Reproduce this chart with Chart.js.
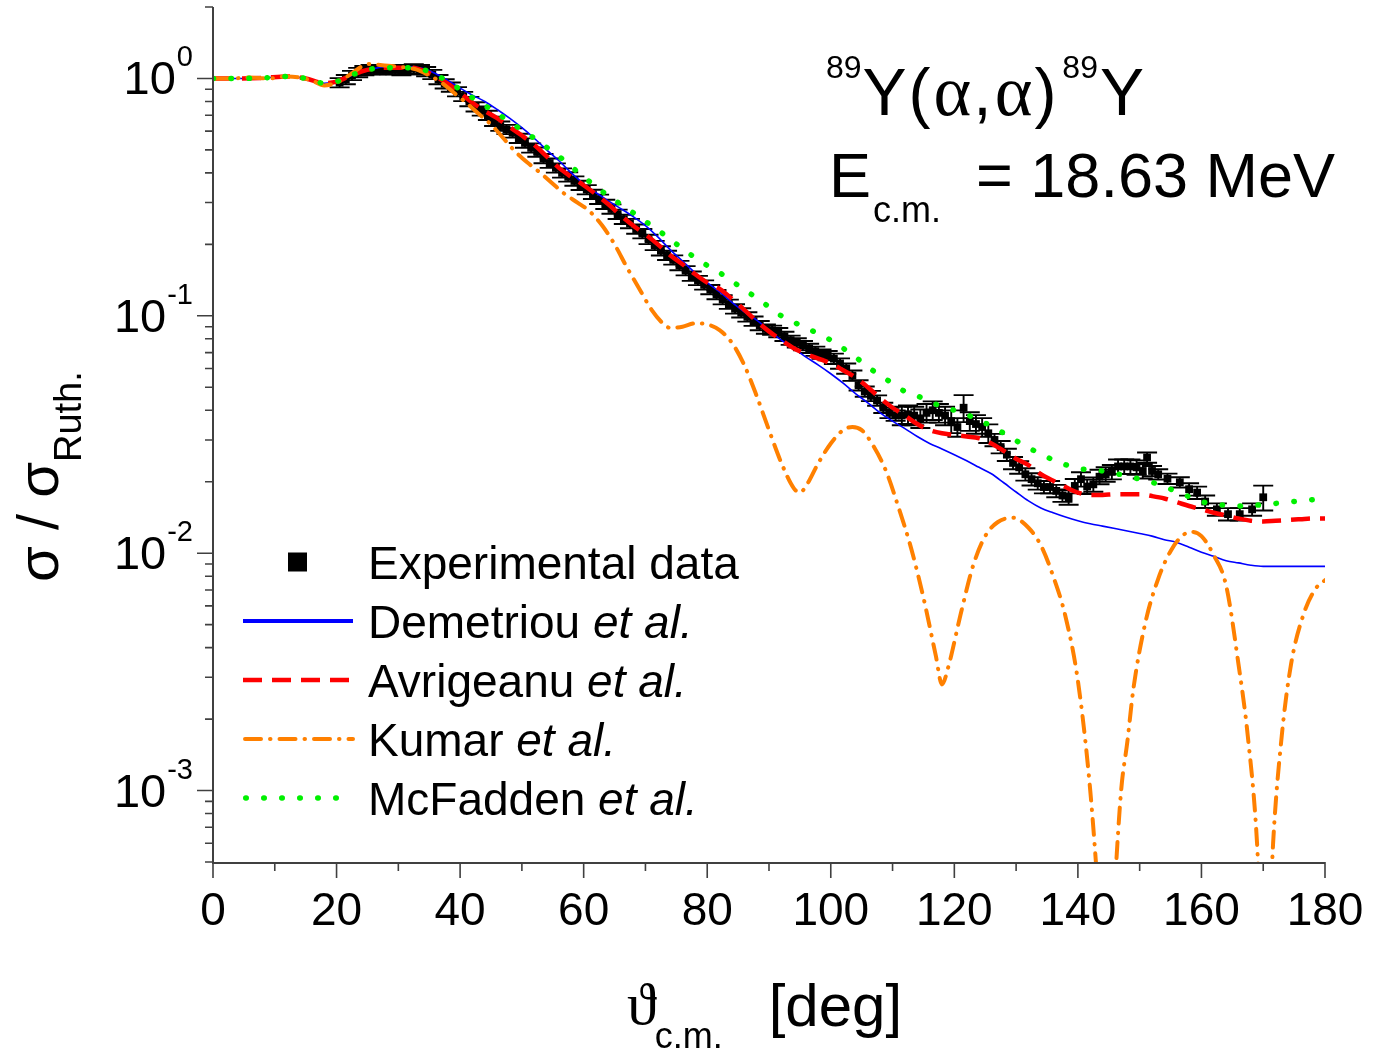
<!DOCTYPE html>
<html><head><meta charset="utf-8">
<script src="https://cdn.jsdelivr.net/npm/chart.js@4/dist/chart.umd.min.js"></script>
<style>html,body{margin:0;padding:0;background:#fff;}canvas{display:block;}</style>
</head><body>
<canvas id="c" width="1380" height="1053"></canvas>
<script>
// ---------------- DATA ----------------
const expAngles = [
 20.5,21.5,22.5,23.5,24.5,25.5,26.5,27.5,28.5,29.5,
 30.5,31.5,32.5,33.5,34.5,35.5,36.5,37.5,38.5,39.5,
 40.5,41.5,42.5,43.5,44.5,45.5,46.5,47.5,48.5,49.5,
 50.5,51.5,52.5,53.5,54.5,55.5,56.5,57.5,58.5,59.5,
 60.5,61.5,62.5,63.5,64.5,65.5,66.5,67.5,68.5,69.5,
 70.5,71.5,72.5,73.5,74.5,75.5,76.5,77.5,78.5,79.5,
 80.5,81.5,82.5,83.5,84.5,85.5,86.5,87.5,88.5,89.5,
 90.5,91.5,92.5,93.5,94.5,95.5,96.5,97.5,98.5,99.5,
 100.5,101.5,102.5,103.5,104.5,105.5,106.5,107.5,108.5,109.5,
 110.5,111.5,112.5,113.5,114.5,115.5,116.5,117.5,118.5,119.5,
 120.5,121.5,122.5,123.5,124.5,125.5,126.5,127.5,128.5,129.5,
 130.5,131.5,132.5,133.5,134.5,135.5,136.5,137.5,138.5,139.5,
 140.5,141.5,142.5,143.5,144.5,145.5,146.5,147.5,148.5,149.5,
 150.5,151.2,152.0,153.0,154.5,156.5,158.0,159.3,160.6,162.5,
 164.3,166.2,168.2,170.0];
const expValues = [
 0.96,0.99,1.03,1.06,1.08,1.09,1.09,1.09,1.09,1.09,
 1.08,1.09,1.10,1.09,1.07,1.04,0.99,0.95,0.92,0.88,
 0.84,0.80,0.76,0.73,0.70,0.66,0.63,0.61,0.59,0.56,
 0.535,0.51,0.49,0.46,0.44,0.42,0.40,0.385,0.37,0.355,
 0.34,0.325,0.31,0.295,0.282,0.268,0.255,0.245,0.232,0.222,
 0.21,0.198,0.188,0.18,0.172,0.163,0.155,0.147,0.141,0.135,
 0.129,0.123,0.117,0.112,0.107,0.103,0.099,0.095,0.091,0.088,
 0.087,0.085,0.082,0.079,0.077,0.075,0.073,0.071,0.069,0.068,
 0.066,0.063,0.060,0.056,0.051,0.048,0.046,0.044,0.041,0.039,
 0.038,0.038,0.0385,0.038,0.037,0.039,0.040,0.039,0.038,0.036,
 0.034,0.041,0.036,0.035,0.034,0.032,0.030,0.028,0.026,0.024,
 0.023,0.0215,0.0205,0.0197,0.019,0.019,0.0183,0.0175,0.0172,0.0192,
 0.0205,0.0191,0.0195,0.021,0.0215,0.022,0.0232,0.0232,0.0232,0.023,
 0.0222,0.0253,0.0222,0.0215,0.0206,0.0199,0.0186,0.018,0.0165,0.0153,
 0.0146,0.0146,0.0153,0.0172];
const expRelErr = [
 0.045,0.045,0.045,0.045,0.045,0.045,0.045,0.045,0.045,0.045,
 0.045,0.045,0.045,0.045,0.045,0.045,0.045,0.045,0.045,0.045,
 0.045,0.045,0.045,0.045,0.045,0.045,0.045,0.045,0.045,0.045,
 0.045,0.045,0.045,0.045,0.045,0.045,0.045,0.045,0.045,0.045,
 0.045,0.045,0.045,0.045,0.045,0.045,0.045,0.045,0.045,0.045,
 0.045,0.045,0.045,0.045,0.045,0.045,0.045,0.045,0.045,0.045,
 0.045,0.045,0.045,0.045,0.045,0.045,0.045,0.045,0.045,0.045,
 0.045,0.045,0.045,0.045,0.045,0.045,0.045,0.045,0.045,0.045,
 0.05,0.05,0.05,0.05,0.05,0.05,0.05,0.05,0.05,0.05,
 0.05,0.09,0.09,0.09,0.09,0.09,0.09,0.09,0.09,0.11,
 0.09,0.13,0.09,0.09,0.09,0.09,0.06,0.06,0.06,0.06,
 0.06,0.06,0.06,0.06,0.06,0.06,0.06,0.06,0.07,0.07,
 0.07,0.07,0.07,0.07,0.07,0.07,0.07,0.07,0.07,0.07,
 0.07,0.05,0.05,0.05,0.05,0.05,0.06,0.06,0.06,0.06,
 0.06,0.06,0.06,0.12];

const demAngles = [0,4,8,12,15,18,20,22,24,26,28,30,32,34,36,38,40,42,44,46,48,50,52,54,56,58,60,62,64,66,68,70,72,74,76,78,80,82,84,86,88,90,92,94,96,98,100,102,104,106,108,110,112,114,116,118,120,122,124,126,128,130,132,134,136,138,140,142,144,146,148,150,152,154,156,158,160,162,164,166,168,170,174,180];
const demValues = [1.0,1.0,1.005,1.02,1.0,0.955,0.97,1.02,1.07,1.10,1.12,1.12,1.12,1.10,1.05,0.98,0.91,0.85,0.80,0.74,0.68,0.62,0.56,0.50,0.45,0.40,0.36,0.33,0.305,0.283,0.262,0.24,0.215,0.19,0.17,0.152,0.138,0.126,0.114,0.104,0.096,0.087,0.079,0.073,0.067,0.062,0.057,0.052,0.047,0.043,0.039,0.036,0.0335,0.031,0.029,0.0275,0.026,0.0245,0.023,0.0216,0.0198,0.0181,0.0166,0.0155,0.0148,0.0142,0.0137,0.0133,0.013,0.0127,0.0124,0.0121,0.0118,0.0114,0.0111,0.0106,0.0101,0.0097,0.0093,0.0091,0.0089,0.0088,0.0088,0.0088];

const avrAngles = [0,4,8,12,15,18,20,22,24,26,28,30,32,34,36,38,40,42,44,46,48,50,52,54,56,58,60,62,64,66,68,70,72,74,76,78,80,82,84,86,88,90,92,94,96,98,100,102,104,106,108,110,112,114,116,118,120,122,124,126,128,130,132,134,136,138,140,142,144,146,148,150,152,154,156,158,160,162,164,166,168,170,172,174,176,178,180];
const avrValues = [1.0,1.0,1.005,1.02,1.0,0.955,0.97,1.02,1.07,1.10,1.11,1.11,1.11,1.08,1.02,0.95,0.87,0.79,0.73,0.68,0.625,0.575,0.525,0.47,0.42,0.385,0.355,0.325,0.295,0.265,0.24,0.22,0.2,0.18,0.165,0.15,0.138,0.13,0.118,0.106,0.095,0.086,0.079,0.073,0.069,0.066,0.063,0.059,0.055,0.05,0.045,0.041,0.038,0.035,0.033,0.032,0.0315,0.031,0.0305,0.029,0.027,0.025,0.0235,0.0215,0.0202,0.019,0.018,0.0176,0.0176,0.0177,0.0177,0.0177,0.0174,0.017,0.0164,0.0158,0.0153,0.0148,0.0144,0.014,0.0137,0.0136,0.0137,0.0138,0.0139,0.014,0.014];

const kumAngles = [0,3,6,9,12,14,16,18,20,22,24,25,27,30,33,35,37,39,41,43,45,47,49,51,53,55,57,59,61,63,65,67,69,71,73,74,76,78,80,82,84,86,88,90,92,94,95,96,98,100,102,103.5,105,107,109,111,113,115,117,118,119,121,123,125,127,129.5,132,134,136,138,140,142,143.5,144.6,145.7,147,148,149,151,153,155,157,158.5,160,162,164,166,167.5,169,170.3,171.6,173,174.5,176.5,178.5,180];
const kumValues = [1.0,1.0,1.01,1.0,1.02,1.01,0.98,0.935,0.96,1.03,1.12,1.15,1.14,1.12,1.09,1.03,0.96,0.87,0.79,0.71,0.64,0.56,0.49,0.44,0.40,0.36,0.325,0.30,0.275,0.24,0.20,0.16,0.13,0.106,0.092,0.089,0.09,0.093,0.092,0.087,0.077,0.062,0.046,0.033,0.024,0.0188,0.018,0.0192,0.024,0.029,0.033,0.034,0.033,0.028,0.022,0.0155,0.0105,0.0065,0.0037,0.0028,0.0033,0.0055,0.0088,0.0118,0.0135,0.0141,0.0128,0.0108,0.008,0.0054,0.0029,0.001,0.0003,0.0001,0.0003,0.001,0.0016,0.0027,0.0052,0.0078,0.0102,0.0119,0.0123,0.0118,0.0098,0.0073,0.0034,0.0017,0.0006,0.0001,0.0006,0.0017,0.0034,0.0055,0.0071,0.0077];

const mcfAngles = [0,4,8,12,15,18,20,22,24,26,28,30,32,34,36,38,40,42,44,46,48,50,52,54,56,58,60,62,64,66,68,70,72,74,76,78,80,82,84,86,88,90,92,94,96,98,100,102,104,106,108,110,112,114,116,118,120,122,124,126,128,130,132,134,136,138,140,142,144,146,148,150,152,154,156,158,160,162,164,166,168,170,172,174,176,178,180];
const mcfValues = [1.0,1.0,1.005,1.02,1.0,0.955,0.97,1.02,1.07,1.10,1.11,1.11,1.11,1.09,1.04,0.97,0.90,0.83,0.77,0.71,0.66,0.605,0.56,0.513,0.47,0.425,0.385,0.35,0.32,0.295,0.272,0.25,0.23,0.21,0.192,0.176,0.163,0.152,0.14,0.129,0.119,0.109,0.10,0.094,0.089,0.084,0.079,0.073,0.067,0.061,0.056,0.052,0.048,0.046,0.0435,0.0415,0.040,0.0385,0.036,0.0345,0.032,0.0298,0.0278,0.0262,0.0247,0.0236,0.0228,0.0224,0.0222,0.0217,0.0211,0.0205,0.0199,0.019,0.0182,0.0173,0.0165,0.0161,0.0159,0.0158,0.0159,0.016,0.0162,0.0164,0.0166,0.0168,0.017];

const xMajorTicks = [0,20,40,60,80,100,120,140,160,180];
const xMinorTicks = [10,30,50,70,90,110,130,150,170];
const yDecades = [0.001,0.01,0.1,1];
const yExponents = ['-3','-2','-1','0'];
const seriesLabels = ['Experimental data','Demetriou et al.','Avrigeanu et al.','Kumar et al.','McFadden et al.'];

// ---------------- STYLE ----------------
const SANS = "'Liberation Sans', Arial, Helvetica, sans-serif";
const SERIF = "'Liberation Serif', 'Times New Roman', 'DejaVu Serif', serif";
const AXIS = '#404040';
const pts = (xa, ya) => xa.map((x, i) => ({x: x, y: ya[i]}));

const styles = [
  {color:'#000000'},
  {color:'#0000FF', width:1.6, dash:[], cap:'butt', lw:4},
  {color:'#FF0000', width:4.5, dash:[19,10], cap:'butt', lw:4.5},
  {color:'#FF8000', width:4, dash:[16,9,0.5,9], cap:'round', lw:4},
  {color:'#00F000', width:5.5, dash:[0.5,17.5], cap:'round', lw:5.5}
];

function curve(label, data, st, order) {
  return {label, data, showLine:true, pointRadius:0, pointHoverRadius:0,
    borderColor:st.color, backgroundColor:st.color, borderWidth:st.width,
    borderDash:st.dash, borderCapStyle:st.cap, borderJoinStyle:'round',
    cubicInterpolationMode:'monotone', order};
}

const customDraw = {
  id:'customDraw',
  beforeDatasetsDraw(chart) {
    const {ctx, chartArea:a} = chart; const xs = chart.scales.x, ys = chart.scales.y;
    ctx.save();
    ctx.beginPath(); ctx.rect(a.left, a.top, a.right - a.left, a.bottom - a.top); ctx.clip();
    ctx.strokeStyle = '#000'; ctx.lineWidth = 1.9;
    expAngles.forEach((ang, i) => {
      const v = expValues[i], e = v * expRelErr[i];
      const px = xs.getPixelForValue(ang);
      const yHi = ys.getPixelForValue(v + e), yLo = ys.getPixelForValue(v - e);
      ctx.beginPath();
      ctx.moveTo(px, yLo); ctx.lineTo(px, yHi);
      ctx.moveTo(px - 10, yLo); ctx.lineTo(px + 10, yLo);
      ctx.moveTo(px - 10, yHi); ctx.lineTo(px + 10, yHi);
      ctx.stroke();
    });
    ctx.restore();
  },
  afterDraw(chart) {
    const {ctx, chartArea:a} = chart; const xs = chart.scales.x, ys = chart.scales.y;
    ctx.save();
    // axis lines
    ctx.strokeStyle = AXIS; ctx.lineWidth = 2;
    ctx.beginPath();
    ctx.moveTo(a.left, a.top); ctx.lineTo(a.left, a.bottom + 1); ctx.lineTo(a.right, a.bottom + 1);
    ctx.stroke();
    // x ticks
    ctx.lineWidth = 1.6;
    ctx.beginPath();
    xMajorTicks.forEach(v => { const p = xs.getPixelForValue(v); ctx.moveTo(p, a.bottom); ctx.lineTo(p, a.bottom + 16); });
    xMinorTicks.forEach(v => { const p = xs.getPixelForValue(v); ctx.moveTo(p, a.bottom); ctx.lineTo(p, a.bottom + 9); });
    // y ticks
    yDecades.forEach(v => { const p = ys.getPixelForValue(v); ctx.moveTo(a.left - 16, p); ctx.lineTo(a.left, p); });
    [0.0001,0.001,0.01,0.1,1].forEach(d => {
      for (let k = 2; k <= 9; k++) {
        const v = k * d;
        if (v < ys.min * 0.999 || v > ys.max * 1.001) continue;
        const p = ys.getPixelForValue(v); ctx.moveTo(a.left - 8, p); ctx.lineTo(a.left, p);
      }
    });
    ctx.stroke();

    ctx.fillStyle = '#000';
    // x tick labels
    ctx.font = '46px ' + SANS; ctx.textAlign = 'center'; ctx.textBaseline = 'alphabetic';
    xMajorTicks.forEach(v => { ctx.fillText(String(v), xs.getPixelForValue(v), a.bottom + 63); });
    // y tick labels 10^n
    ctx.textAlign = 'left';
    yDecades.forEach((v, i) => {
      const p = ys.getPixelForValue(v);
      ctx.font = '47px ' + SANS; const w1 = ctx.measureText('10').width;
      ctx.font = '29px ' + SANS; const w2 = ctx.measureText(yExponents[i]).width;
      const x0 = a.left - 21 - w1 - w2;
      ctx.font = '47px ' + SANS; ctx.fillText('10', x0, p + 16);
      ctx.font = '29px ' + SANS; ctx.fillText(yExponents[i], x0 + w1 + 1, p - 12);
    });

    // runs helper
    const runs = (x, y, list) => {
      list.forEach(r => { ctx.font = r.f; ctx.fillText(r.t, x + (r.dx || 0), y + (r.dy || 0)); x += (r.dx || 0) + ctx.measureText(r.t).width + (r.ax || 0); });
      return x;
    };
    // annotation line 1
    runs(826, 115, [
      {t:'89', f:'32px ' + SANS, dy:-37},
      {t:'Y', f:'66px ' + SANS, dx:1},
      {t:'(', f:'66px ' + SANS, dx:2},
      {t:'\u03B1', f:'72px ' + SERIF, dx:3, ax:2},
      {t:',', f:'66px ' + SANS},
      {t:'\u03B1', f:'72px ' + SERIF, dx:3, ax:2},
      {t:')', f:'66px ' + SANS},
      {t:'89', f:'32px ' + SANS, dy:-37, dx:6},
      {t:'Y', f:'66px ' + SANS, dx:2}
    ]);
    // annotation line 2
    runs(829, 197, [
      {t:'E', f:'63px ' + SANS},
      {t:'c.m.', f:'36px ' + SANS, dy:25, dx:2},
      {t:'  = 18.63 MeV', f:'63px ' + SANS}
    ]);
    // x axis title
    runs(627, 1024, [
      {t:'\u03D1', f:'60px ' + SERIF},
      {t:'c.m.', f:'36px ' + SANS, dy:24, dx:-2},
      {t:'[deg]', f:'60px ' + SANS, dx:46, dy:2}
    ]);
    // y axis title (rotated)
    ctx.save();
    ctx.translate(58, 582); ctx.rotate(-Math.PI / 2);
    runs(0, 0, [
      {t:'\u03C3 / \u03C3', f:'58px ' + SANS},
      {t:'Ruth.', f:'38px ' + SANS, dy:23}
    ]);
    ctx.restore();

    // legend
    const lx0 = 243, lx1 = 353, tx = 368, ly0 = 562, step = 59;
    seriesLabels.forEach((lab, i) => {
      const cy = ly0 + i * step; const st = styles[i];
      if (i === 0) {
        ctx.fillStyle = '#000'; ctx.fillRect(288, cy - 9.5, 19, 19);
      } else {
        ctx.save();
        ctx.strokeStyle = st.color; ctx.lineWidth = st.lw; ctx.setLineDash(st.dash); ctx.lineCap = st.cap;
        ctx.beginPath(); ctx.moveTo(lx0 + (st.cap === 'round' ? st.lw / 2 : 0), cy); ctx.lineTo(lx1, cy); ctx.stroke();
        ctx.restore();
      }
      ctx.fillStyle = '#000';
      const k = lab.indexOf('et al.');
      if (k >= 0) {
        runs(tx, cy + 17, [{t:lab.slice(0, k), f:'46px ' + SANS}, {t:'et al.', f:'italic 46px ' + SANS}]);
      } else {
        runs(tx, cy + 17, [{t:lab, f:'46px ' + SANS}]);
      }
    });
    ctx.restore();
  }
};

new Chart(document.getElementById('c'), {
  type:'scatter',
  data:{datasets:[
    {label:seriesLabels[0], data:pts(expAngles, expValues), showLine:false, pointStyle:'rect',
     pointRadius:5.5, pointHoverRadius:5.5, backgroundColor:'#000', borderColor:'#000', borderWidth:0, order:6},
    curve(seriesLabels[1], pts(demAngles, demValues), styles[1], 5),
    curve(seriesLabels[2], pts(avrAngles, avrValues), styles[2], 4),
    curve(seriesLabels[3], pts(kumAngles, kumValues), styles[3], 3),
    curve(seriesLabels[4], pts(mcfAngles, mcfValues), styles[4], 2)
  ]},
  options:{
    responsive:false, animation:false, devicePixelRatio:1,
    layout:{padding:{left:0, right:55, top:7, bottom:0}},
    plugins:{legend:{display:false}, tooltip:{enabled:false}},
    scales:{
      x:{type:'linear', min:0, max:180, grid:{display:false}, border:{display:false},
         ticks:{display:false, stepSize:20}, afterFit:(s) => { s.height = 191; }},
      y:{type:'logarithmic', min:0.0005, max:2, grid:{display:false}, border:{display:false},
         ticks:{display:false}, afterFit:(s) => { s.width = 213; }}
    }
  },
  plugins:[customDraw]
});
</script>
</body></html>
